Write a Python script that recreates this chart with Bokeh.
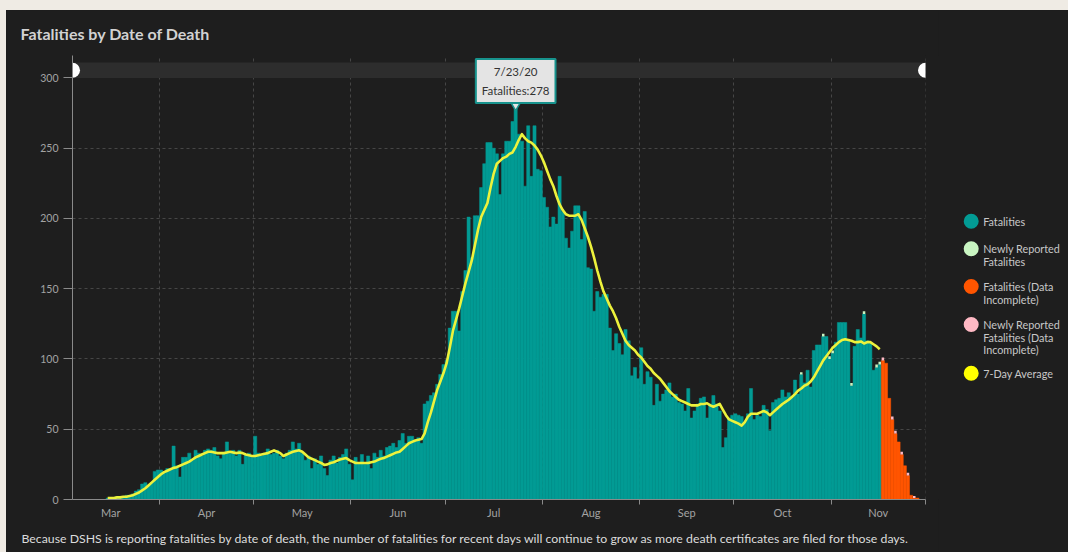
import numpy as np
import pandas as pd
from bokeh.plotting import figure
from bokeh.models import Range1d, FixedTicker, DatetimeTickFormatter, Label, Title
from bokeh.layouts import row
from bokeh.embed import file_html
from bokeh.resources import INLINE
from bokeh.core.properties import value

# ---------------- data ----------------
first_day = "2020-03-15"
mar = [1, 1, 1, 2, 2, 2, 3, 3, 4, 6, 7, 11, 12, 10, 12, 20, 21]
apr = [21, 20, 22, 21, 38, 24, 16, 30, 30, 33, 28, 35, 33, 31, 35, 36, 35, 37, 31, 29,
       33, 41, 33, 35, 31, 35, 25, 32, 33, 30]
may = [45, 33, 31, 33, 36, 32, 33, 35, 31, 29, 33, 35, 41, 36, 40, 33, 28, 31, 22, 29,
       25, 31, 22, 17, 28, 31, 26, 30, 32, 36, 25]
jun = [14, 30, 26, 32, 25, 31, 22, 33, 30, 35, 31, 37, 38, 40, 37, 42, 47, 40, 45, 45,
       42, 44, 40, 68, 70, 74, 76, 82, 89, 96]
jul = [99, 122, 134, 134, 120, 148, 163, 201, 172, 202, 202, 222, 239, 254, 254, 250, 246,
       217, 246, 255, 255, 269, 278, 260, 255, 223, 266, 230, 266, 235, 234]
aug = [215, 208, 194, 201, 196, 230, 205, 186, 179, 191, 209, 209, 185, 205, 165, 164, 134,
       148, 144, 146, 146, 122, 106, 118, 111, 103, 121, 113, 88, 94, 86]
sep = [108, 82, 91, 87, 67, 82, 70, 75, 78, 83, 73, 75, 69, 68, 63, 79, 58, 63, 68, 72,
       73, 58, 68, 74, 68, 63, 37, 44, 58, 60]
octo = [61, 60, 59, 55, 61, 79, 57, 60, 59, 67, 64, 49, 69, 71, 72, 78, 73, 76, 73, 85,
        75, 89, 83, 92, 80, 106, 110, 110, 116, 116, 100]
nov = [104, 112, 126, 126, 126, 114, 81, 109, 121, 115, 132, 113, 111, 92, 94, 96]

incomplete_first_day = "2020-11-17"
incomplete = [99, 97, 72, 57, 47, 41, 32, 24, 17, 3, 1, 1]

# 7-day average line
avg_mar = [1, 1, 1, 1.5, 1.5, 2, 2, 2.5, 3, 4, 5, 6.5, 8, 10, 12, 14, 16]
avg_apr = [18, 19.5, 20.5, 21.5, 22.5, 23, 24, 25, 26, 27, 28.5, 30, 31, 32, 33, 34, 34, 33.5,
           33, 33, 33, 33.5, 34, 33.5, 33, 33.5, 33, 32, 31.5, 31]
avg_may = [31, 31.5, 32, 32.5, 33, 34, 35, 34, 33, 31, 32, 33, 34, 34.5, 35, 34, 32, 30, 29,
           28, 27, 26, 24.6, 25, 26, 26.5, 27.5, 28.5, 29, 29.5, 28]
avg_jun = [27, 26, 26, 26, 26, 26, 26.5, 27, 28, 29, 29.5, 30.5, 31.5, 32.5, 33.5, 34, 36, 38,
           40, 41, 42, 42.5, 43, 47, 55, 62, 70, 78, 84, 90]
avg_jul = [97, 108, 120, 128, 136, 145, 154, 162, 170, 181, 192, 201, 206, 211, 222, 232, 239,
           241, 243, 244, 246, 247, 251, 256, 260, 257, 255, 254, 252, 249, 245]
avg_aug = [240, 234, 228, 223, 216, 210, 206, 203, 202, 202, 202, 203, 199, 193, 187, 180, 172,
           163, 155, 148, 143, 138, 134, 129, 123, 118, 113, 110, 108, 106, 103]
avg_sep = [101, 98, 95, 93, 90, 88, 86, 83, 80, 77, 75, 73, 71, 70, 69, 68, 67, 67, 67, 68, 68,
           68.5, 67, 66, 67, 68, 64, 60, 57, 56]
avg_oct = [55, 54, 52.6, 55, 59, 61, 61, 61, 62, 63, 62, 60, 62, 64, 66, 68, 69.5, 71, 73, 75,
           77.5, 79, 81, 82, 84, 87, 91, 95, 99, 102, 105]
avg_nov = [108, 110, 112, 113.5, 114, 113.5, 113, 112, 112, 112.5, 111, 112, 112, 110.5, 109, 107]

newly_dates = ["2020-10-22", "2020-10-29", "2020-10-31", "2020-11-01", "2020-11-07",
               "2020-11-11", "2020-11-15", "2020-11-16"]
newly_vals = [1.5, 2, 2, 2, 2, 2, 2, 2]
newly_inc_dates = ["2020-11-17", "2020-11-20", "2020-11-21", "2020-11-23", "2020-11-25", "2020-11-27"]
newly_inc_vals = [2, 2, 2, 2, 2, 1.5]

y_ticks = [0, 50, 100, 150, 200, 250, 300]
legend_labels = ["Fatalities", "Newly Reported\nFatalities", "Fatalities (Data\nIncomplete)",
                 "Newly Reported\nFatalities (Data\nIncomplete)", "7-Day Average"]
title_text = "Fatalities by Date of Death"
footer_text = ("Because DSHS is reporting fatalities by date of death, the number of fatalities "
               "for recent days will continue to grow as more death certificates are filed for those days.")

# ---------------- styles ----------------
BG = "#1e1e1e"
PAGE_BG = "#efebe4"
TEAL = "#029b94"
ORANGE = "#ff5500"
LGREEN = "#c9f5c2"
PINK = "#ffb9c4"
YELLOW_LINE = "#edf23c"
YELLOW = "#ffff00"
AXIS = "#8a8a8a"
LABEL = "#a3a3a3"
GRID = "#464646"
FONT = "Lato"

HALF = pd.Timedelta(hours=12)
DAY_MS = 86400000

fat = mar + apr + may + jun + jul + aug + sep + octo + nov
avg = avg_mar + avg_apr + avg_may + avg_jun + avg_jul + avg_aug + avg_sep + avg_oct + avg_nov
dates = pd.date_range(first_day, periods=len(fat), freq="D")
inc_dates = pd.date_range(incomplete_first_day, periods=len(incomplete), freq="D")

lookup = dict(zip(dates, fat))
lookup.update(dict(zip(inc_dates, incomplete)))
nd = pd.to_datetime(newly_dates)
nid = pd.to_datetime(newly_inc_dates)

x_start = pd.Timestamp("2020-03-04 07:00")
x_end = pd.Timestamp("2020-12-01 02:00")

FIG_H = 542
B_TOP, B_BOT = 45, 53
FRAME_H = FIG_H - B_TOP - B_BOT
p = figure(width=932, height=FIG_H, x_axis_type="datetime", title=None,
           x_range=Range1d(x_start, x_end), y_range=Range1d(0, 316),
           output_backend="svg", toolbar_location=None,
           min_border_left=66, min_border_right=13, min_border_top=B_TOP, min_border_bottom=B_BOT,
           background_fill_color=BG, border_fill_color=BG, outline_line_color=None)

# title (above) and footnote (below)
p.add_layout(Title(text=title_text, align="left", offset=-52, standoff=22, vertical_align="top",
                   text_font=FONT, text_font_size="16px", text_font_style="bold",
                   text_color="#d2d2d2"), "above")

# top scrollbar band
p.quad(left=[x_start], right=[x_end], bottom=[300], top=[311], fill_color="#2d2d2d", line_color=None)

# bars
p.vbar(x=dates + HALF, top=fat, width=DAY_MS, fill_color=TEAL, line_color=TEAL, line_width=0.5)
p.vbar(x=inc_dates + HALF, top=incomplete, width=DAY_MS, fill_color=ORANGE, line_color=ORANGE, line_width=0.5)
p.vbar(x=nd + HALF, bottom=[lookup[d] for d in nd], top=[lookup[d] + v for d, v in zip(nd, newly_vals)],
       width=DAY_MS * 0.8, fill_color=LGREEN, line_color=None)
p.vbar(x=nid + HALF, bottom=[lookup[d] for d in nid], top=[lookup[d] + v for d, v in zip(nid, newly_inc_vals)],
       width=DAY_MS * 0.8, fill_color=PINK, line_color=None)

# 7-day average
p.line(x=dates + HALF, y=avg, line_color=YELLOW_LINE, line_width=2.6, line_join="round")

# scrollbar handles (round white knobs at both ends of the band)
p.scatter(x=[x_start, x_end], y=[305.5, 305.5], marker="circle", size=15,
          fill_color="white", line_color=None)

# tooltip at the peak day
pk = int(np.argmax(fat))
pk_date = dates[pk]
pk_val = fat[pk]
px_per_unit = FRAME_H / 316
p.scatter(x=[pk_date + HALF], y=[pk_val + 4 / px_per_unit], marker="inverted_triangle", size=10,
          fill_color="#e4e4e4", line_color="#17938d", line_width=1.5)
tip = Label(x=pk_date + HALF, y=pk_val, y_offset=6,
            text=f"{pk_date.month}/{pk_date.day}/{pk_date.strftime('%y')}\nFatalities:{pk_val}",
            text_align="center", text_baseline="bottom", text_font=FONT, text_font_size="11.5px",
            text_color="#333333", text_line_height=1.45, background_fill_color="#e4e4e4",
            border_line_color="#17938d", border_line_width=2, padding=6)
p.add_layout(tip)

# axes
month_starts = pd.date_range("2020-03-01", "2020-12-01", freq="MS")
start_ms = [int(t.value // 10**6) for t in month_starts[1:]]
mid_ms = [int((a + (b - a) / 2).value // 10**6) for a, b in zip(month_starts[:-1], month_starts[1:])]

p.xaxis.ticker = FixedTicker(ticks=mid_ms, minor_ticks=start_ms)
p.xaxis.formatter = DatetimeTickFormatter(days="%b", months="%b", years="%b", hours="%b", hourmin="%b")
p.xaxis.major_tick_line_color = None
p.xaxis.major_tick_out = 0
p.xaxis.major_tick_in = 0
p.xaxis.minor_tick_line_color = AXIS
p.xaxis.minor_tick_out = 5
p.xaxis.minor_tick_in = 0
p.xaxis.major_label_standoff = 1
p.yaxis.ticker = FixedTicker(ticks=y_ticks)
p.yaxis.major_tick_out = 9
p.yaxis.major_tick_in = 0
p.yaxis.minor_tick_line_color = None
p.yaxis.major_tick_line_color = AXIS
p.yaxis.major_label_standoff = 5
for ax in (p.xaxis, p.yaxis):
    ax.axis_line_color = AXIS
    ax.major_label_text_color = LABEL
    ax.major_label_text_font = FONT
    ax.major_label_text_font_size = "11px"
p.yaxis.major_label_text_font_size = "10.5px"

p.xgrid.ticker = FixedTicker(ticks=start_ms)
for g in (p.xgrid, p.ygrid):
    g.grid_line_color = GRID
    g.grid_line_dash = "3 3"
    g.grid_line_width = 1

p.add_layout(Title(text=footer_text, align="left", offset=-51, standoff=14, text_font=FONT,
                   text_font_size="12.3px", text_font_style="normal", text_color="#dcdcdc"), "below")

# legend panel (its frame is aligned with the main frame: y in px above the frame bottom)
LG_W = 130
lg = figure(width=LG_W, height=FIG_H, x_range=Range1d(0, LG_W), y_range=Range1d(0, FRAME_H),
            output_backend="svg", toolbar_location=None, x_axis_location=None, y_axis_location=None,
            min_border_left=0, min_border_right=0, min_border_top=B_TOP, min_border_bottom=B_BOT,
            background_fill_color=BG, border_fill_color=BG, outline_line_color=None)
lg.grid.visible = False
legend_colors = [TEAL, LGREEN, ORANGE, PINK, YELLOW]
legend_y = [278.3, 250.7, 213.0, 175.0, 126.3]
lg.scatter(x=[32.7] * 5, y=legend_y, size=15, fill_color=legend_colors, line_color=None)
LINE_STEP = 12.6
tx, ty, tt = [], [], []
for ycir, lab in zip(legend_y, legend_labels):
    for i, part in enumerate(lab.split("\n")):
        tx.append(44.7)
        ty.append(ycir - i * LINE_STEP)
        tt.append(part)
lg.text(x=tx, y=ty, text=tt, text_font=value(FONT), text_font_size="10.8px",
        text_color="#c8c8c8", text_baseline="middle", text_align="left")

layout = row(p, lg, spacing=0, styles={"background-color": BG})
try:
    from bokeh.models import GlobalInlineStyleSheet
    layout.stylesheets = [GlobalInlineStyleSheet(css=(
        "body{background:" + PAGE_BG + ";padding:10px 0 0 6px;margin:0;}"))]
except Exception:
    pass

open("out.html", "w").write(file_html(layout, INLINE))
